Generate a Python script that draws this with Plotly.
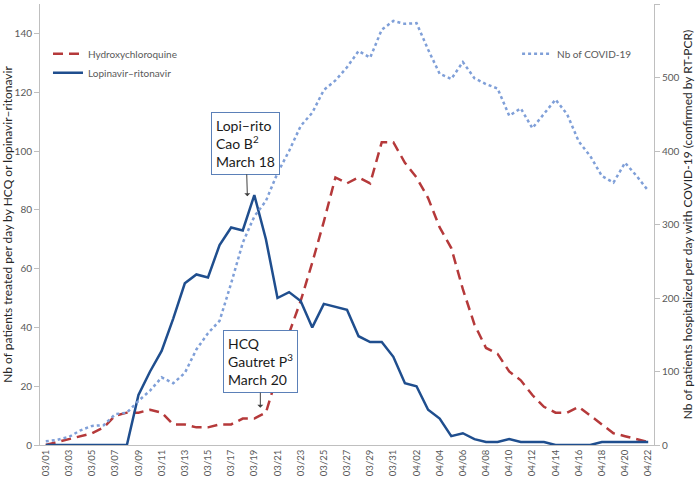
import plotly.graph_objects as go

dates = ["03/%02d" % d for d in range(1, 32)] + ["04/%02d" % d for d in range(1, 23)]

hcq = [0, 1, 2, 3, 4, 6, 10, 11, 11, 12, 11, 7, 7, 6, 6, 7, 7, 9, 9, 11,
       24, 38, 49, 62, 76, 91, 89, 91, 89, 103, 103, 96, 91, 84, 74, 67, 53, 41, 33, 31,
       25, 22, 17, 13, 11, 11, 13, 10, 7, 4, 3, 2, 1]

lopi = [0, 0, 0, 0, 0, 0, 0, 0, 17, 25, 32, 43, 55, 58, 57, 68, 74, 73, 85, 70,
        50, 52, 49, 40, 48, 47, 46, 37, 35, 35, 30, 21, 20, 12, 9, 3, 4, 2, 1, 1,
        2, 1, 1, 1, 0, 0, 0, 0, 1, 1, 1, 1, 1]

covid = [5, 7, 11, 20, 26, 27, 42, 44, 60, 74, 92, 84, 98, 130, 152, 169, 220, 275, 311, 332,
         370, 400, 434, 452, 483, 496, 514, 536, 527, 565, 577, 573, 574, 538, 505, 498, 521, 499, 491, 485,
         448, 458, 431, 450, 470, 450, 413, 393, 366, 357, 384, 366, 346]

tick_labels = dates[::2]

FONT = "Lato"
GREY = "#595959"

fig = go.Figure()
fig.add_trace(go.Scatter(x=dates, y=covid, name="Nb of COVID-19", yaxis="y2", mode="lines",
                         line=dict(color="#7f9fd8", width=2.5, dash="dot"), legend="legend2"))
fig.add_trace(go.Scatter(x=dates, y=hcq, name="Hydroxychloroquine", mode="lines",
                         line=dict(color="#b5393a", width=2.5, dash="10px,6px"), legend="legend"))
fig.add_trace(go.Scatter(x=dates, y=lopi, name="Lopinavir\u2013ritonavir", mode="lines",
                         line=dict(color="#1f4e8e", width=2.5), legend="legend"))

fig.update_layout(
    width=696, height=477,
    margin=dict(l=40, r=42, t=4, b=32, autoexpand=False),
    plot_bgcolor="white", paper_bgcolor="white",
    font=dict(family=FONT, size=10, color=GREY),
    showlegend=True,
    legend=dict(x=0.013, y=0.92, xanchor="left", yanchor="top", bgcolor="rgba(0,0,0,0)",
                font=dict(size=10, color=GREY, family=FONT), traceorder="normal", tracegroupgap=0),
    legend2=dict(x=0.777, y=0.92, xanchor="left", yanchor="top", bgcolor="rgba(0,0,0,0)",
                 font=dict(size=10, color=GREY, family=FONT)),
    xaxis=dict(type="category", tickmode="array", tickvals=tick_labels, ticktext=tick_labels,
               tickangle=-90, tickfont=dict(size=9.5, color=GREY), showline=True, linecolor="#bfbfbf",
               linewidth=1, showgrid=False, ticks="", range=[-0.5, 52.5], zeroline=False,
               automargin=False),
    yaxis=dict(range=[0, 150], dtick=20, tick0=0, showline=True, linecolor="#bfbfbf", linewidth=1,
               showgrid=False, ticks="outside", ticklen=5, tickcolor="#bfbfbf", zeroline=False,
               tickfont=dict(size=10, color=GREY), automargin=False,
               title=dict(text="Nb of patients treated per day by HCQ or lopinavir\u2013ritonavir",
                          font=dict(size=12, color="#262626"), standoff=2)),
    yaxis2=dict(range=[0, 600], dtick=100, tick0=0, overlaying="y", side="right", showline=True,
                linecolor="#bfbfbf", linewidth=1, showgrid=False, ticks="outside", ticklen=5,
                tickcolor="#bfbfbf", zeroline=False, tickfont=dict(size=10, color=GREY),
                automargin=False,
                title=dict(text="Nb of patients hospitalized per day with COVID-19 (confirmed by RT-PCR)",
                           font=dict(size=12, color="#262626"), standoff=1)),
)

box = dict(showarrow=True, arrowhead=1, arrowsize=1, arrowwidth=1, arrowcolor="#404040",
           bordercolor="#5b80b8", borderwidth=1, borderpad=4, bgcolor="white", align="left",
           font=dict(family=FONT, size=14, color="#1a1a1a"), xref="x", yref="y", axref="pixel", ayref="pixel")

fig.add_annotation(text="Lopi\u2013rito<br>Cao B<sup>2</sup><br>March 18", x=17.4, y=84.6,
                   ax=-1.5, ay=-53, **box)
fig.add_annotation(text="HCQ<br>Gautret P<sup>3</sup><br>March 20", x=18.52, y=12.7,
                   ax=0, ay=-46, **box)

fig.write_html("out.html", config={"displayModeBar": False},
               post_script="document.body.style.margin='0px';document.body.style.overflow='hidden';")
